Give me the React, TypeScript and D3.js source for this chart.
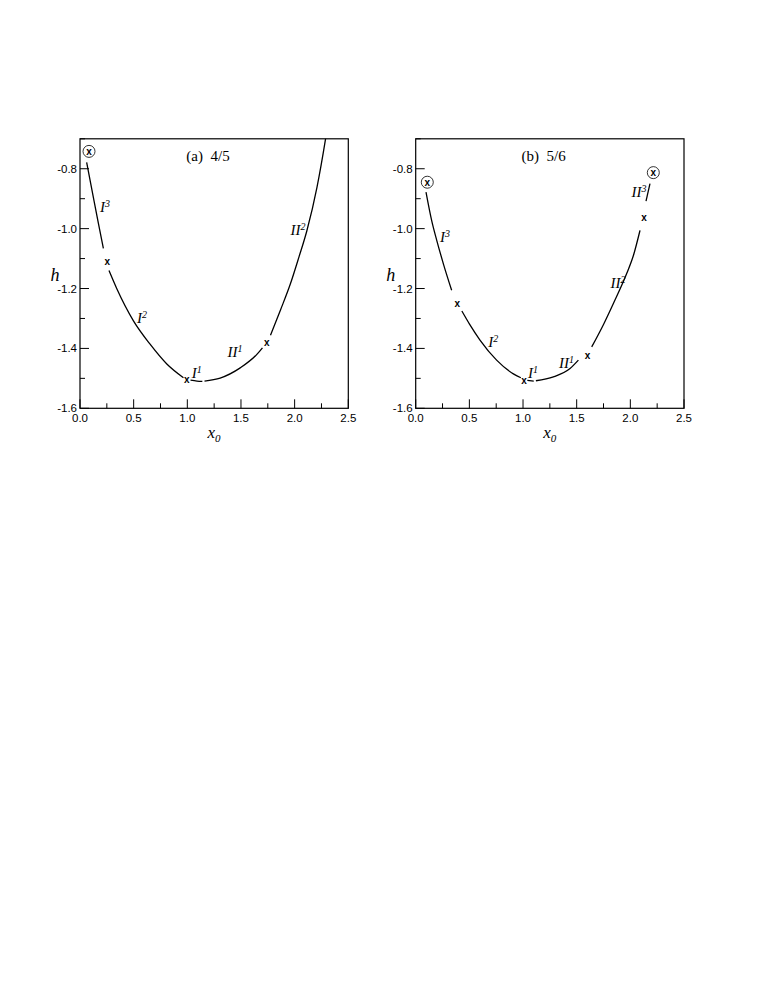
import React from "react";
import * as d3 from "d3";

type Pt = [number, number];

// panel (a) 4/5 — curve branches
const a_I3: Pt[] = [[0.062, -0.779], [0.124, -0.895], [0.171, -0.982], [0.218, -1.066]];
const a_I2: Pt[] = [[0.27, -1.14], [0.342, -1.2], [0.498, -1.308], [0.653, -1.386], [0.809, -1.452], [0.964, -1.498]];
const a_I1: Pt[] = [[1.03, -1.506], [1.09, -1.509], [1.14, -1.51]];
const a_II1: Pt[] = [[1.16, -1.509], [1.306, -1.499], [1.493, -1.465], [1.648, -1.42], [1.70, -1.398]];
const a_II2: Pt[] = [[1.775, -1.356], [1.87, -1.27], [1.959, -1.186], [2.04, -1.095], [2.114, -1.007], [2.208, -0.862], [2.285, -0.707], [2.31, -0.65]];
const a_cross: Pt[] = [[0.255, -1.11], [0.995, -1.504], [1.741, -1.381]];
const a_circled: Pt[] = [[0.084, -0.742]];

// panel (b) 5/6
const b_I3: Pt[] = [[0.096, -0.878], [0.15, -0.975], [0.196, -1.039], [0.26, -1.12], [0.335, -1.206]];
const b_I2: Pt[] = [[0.43, -1.275], [0.5, -1.318], [0.599, -1.372], [0.754, -1.439], [0.91, -1.485], [0.98, -1.498]];
const b_I1: Pt[] = [[1.04, -1.507], [1.10, -1.509]];
const b_II1: Pt[] = [[1.12, -1.508], [1.283, -1.495], [1.438, -1.467], [1.516, -1.439]];
const b_II2: Pt[] = [[1.640, -1.395], [1.75, -1.32], [1.842, -1.25], [1.966, -1.15], [2.03, -1.088], [2.090, -1.006]];
const b_II3: Pt[] = [[2.146, -0.908], [2.183, -0.85]];
const b_cross: Pt[] = [[0.388, -1.25], [1.009, -1.506], [1.600, -1.425], [2.128, -0.963]];
const b_circled: Pt[] = [[0.108, -0.845], [2.214, -0.813]];

// branch labels: [base, superscript, x0, h]
type Lab = [string, string, number, number];
const a_labels: Lab[] = [["I", "3", 0.233, -0.929], ["I", "2", 0.578, -1.299], ["I", "1", 1.088, -1.482], ["II", "1", 1.445, -1.411], ["II", "2", 2.032, -1.006]];
const b_labels: Lab[] = [["I", "3", 0.274, -1.028], ["I", "2", 0.723, -1.378], ["I", "1", 1.093, -1.482], ["II", "1", 1.405, -1.45], ["II", "2", 1.885, -1.182], ["II", "3", 2.081, -0.878]];

const xMajor = [0, 0.5, 1.0, 1.5, 2.0, 2.5];
const xMinor = [0.25, 0.75, 1.25, 1.75, 2.25];
const yMajor = [-1.6, -1.4, -1.2, -1.0, -0.8];
const yMinor = [-1.5, -1.3, -1.1, -0.9, -0.7];

const serif = "'Liberation Serif', 'Times New Roman', serif";
const sans = "'Liberation Sans', Arial, sans-serif";

type PanelProps = {
  id: string;
  left: number;
  title: string;
  branches: Pt[][];
  crosses: Pt[];
  circled: Pt[];
  labels: Lab[];
};

const Panel = ({ id, left, title, branches, crosses, circled, labels }: PanelProps) => {
  const w = 268.3;
  const top = 138.8;
  const bottom = 408.3;
  const x = d3.scaleLinear().domain([0, 2.5]).range([left, left + w]);
  const y = d3.scaleLinear().domain([-1.6, -0.7]).range([bottom, top]);
  const line = d3.line<Pt>().x(d => x(d[0])).y(d => y(d[1])).curve(d3.curveMonotoneX);

  return (
    <g>
      <defs>
        <clipPath id={"clip" + id}>
          <rect x={left} y={top} width={w} height={bottom - top} />
        </clipPath>
      </defs>
      <rect x={left} y={top} width={w} height={bottom - top} fill="none" stroke="#000" strokeWidth={1.2} />
      {xMajor.map(t => (
        <g key={"xm" + t}>
          <line x1={x(t)} x2={x(t)} y1={bottom} y2={bottom - 9} stroke="#000" />
          <text x={x(t)} y={bottom + 14} textAnchor="middle" fontFamily={sans} fontSize={11.5}>{t.toFixed(1)}</text>
        </g>
      ))}
      {xMinor.map(t => (
        <line key={"xn" + t} x1={x(t)} x2={x(t)} y1={bottom} y2={bottom - 5} stroke="#000" />
      ))}
      {yMajor.map(t => (
        <g key={"ym" + t}>
          <line x1={left} x2={left + 9} y1={y(t)} y2={y(t)} stroke="#000" />
          <text x={left - 3} y={y(t) + 4} textAnchor="end" fontFamily={sans} fontSize={11.5}>{t.toFixed(1)}</text>
        </g>
      ))}
      {yMinor.map(t => (
        <line key={"yn" + t} x1={left} x2={left + 5} y1={y(t)} y2={y(t)} stroke="#000" />
      ))}
      <text x={left - 25} y={281} textAnchor="middle" fontFamily={serif} fontStyle="italic" fontSize={18}>h</text>
      <text x={left + 134} y={438} textAnchor="middle" fontFamily={serif} fontStyle="italic" fontSize={17}>
        x<tspan fontSize={11} dy={4}>0</tspan>
      </text>
      <text x={left + 128} y={161} textAnchor="middle" fontFamily={serif} fontSize={15} xmlSpace="preserve">{title}</text>
      <g clipPath={`url(#clip${id})`}>
        {branches.map((b, i) => (
          <path key={i} d={line(b) ?? ""} fill="none" stroke="#000" strokeWidth={1.3} />
        ))}
      </g>
      {crosses.concat(circled).map((c, i) => (
        <text key={"c" + i} x={x(c[0])} y={y(c[1]) + 3.5} textAnchor="middle" fontFamily={sans} fontWeight="bold" fontSize={10}>x</text>
      ))}
      {circled.map((c, i) => (
        <circle key={"o" + i} cx={x(c[0])} cy={y(c[1])} r={6} fill="none" stroke="#000" strokeWidth={0.8} />
      ))}
      {labels.map((l, i) => (
        <text key={"l" + i} x={x(l[2])} y={y(l[3]) + 5} textAnchor="middle" fontFamily={serif} fontStyle="italic" fontSize={15}>
          {l[0]}<tspan fontSize={10} dy={-5}>{l[1]}</tspan>
        </text>
      ))}
    </g>
  );
};

export default function App() {
  return (
    <svg width={763} height={987} style={{ position: "absolute", left: 0, top: 0, background: "#fff" }}>
      <Panel id="a" left={80} title="(a)  4/5" branches={[a_I3, a_I2, a_I1, a_II1, a_II2]} crosses={a_cross} circled={a_circled} labels={a_labels} />
      <Panel id="b" left={415.7} title="(b)  5/6" branches={[b_I3, b_I2, b_I1, b_II1, b_II2, b_II3]} crosses={b_cross} circled={b_circled} labels={b_labels} />
    </svg>
  );
}
